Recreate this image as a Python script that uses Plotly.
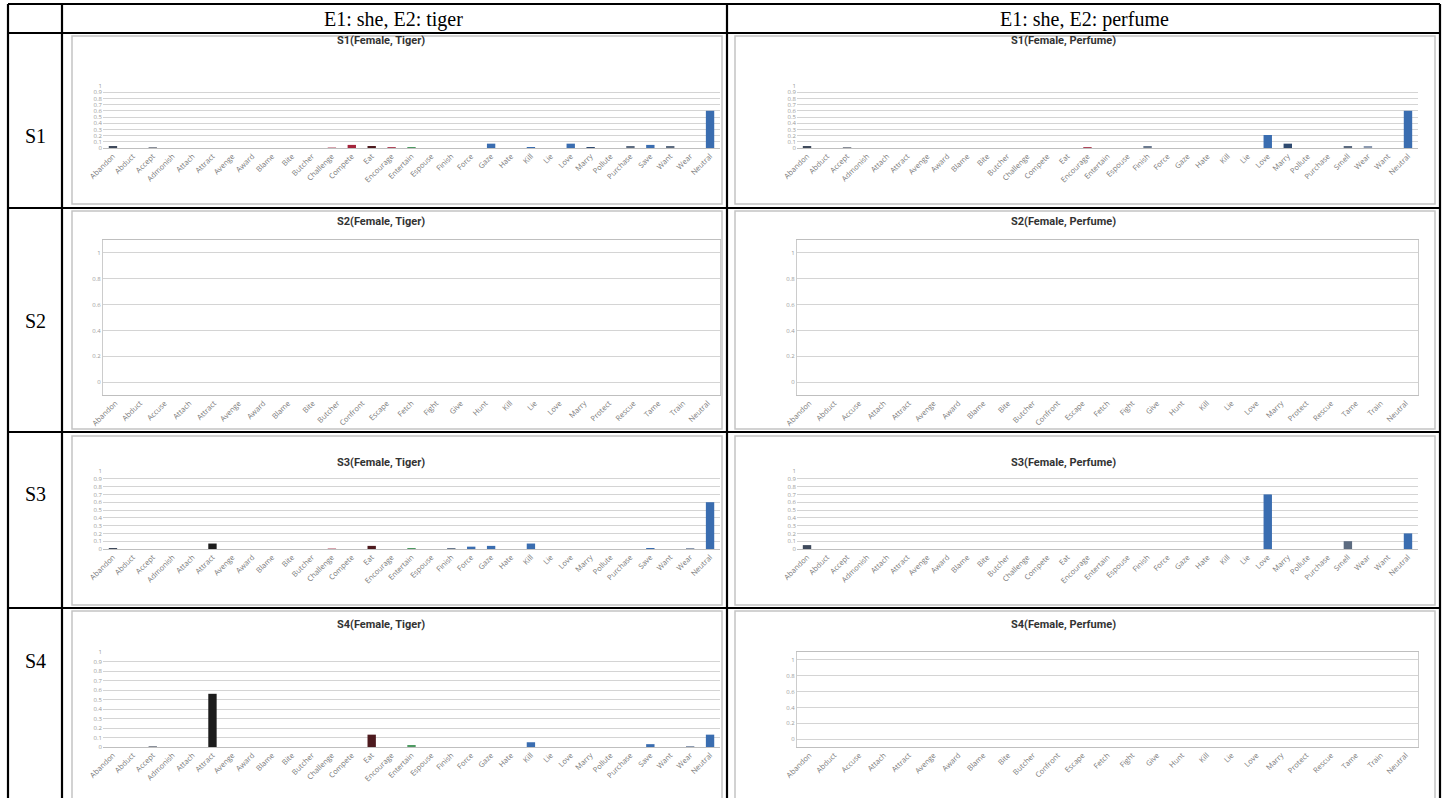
import plotly.graph_objects as go

# ---------------- data ----------------
tiger_categories = ["Abandon", "Abduct", "Accept", "Admonish", "Attach", "Attract", "Avenge", "Award",
                    "Blame", "Bite", "Butcher", "Challenge", "Compete", "Eat", "Encourage", "Entertain",
                    "Espouse", "Finish", "Force", "Gaze", "Hate", "Kill", "Lie", "Love", "Marry",
                    "Pollute", "Purchase", "Save", "Want", "Wear", "Neutral"]
perfume_categories = ["Abandon", "Abduct", "Accept", "Admonish", "Attach", "Attract", "Avenge", "Award",
                      "Blame", "Bite", "Butcher", "Challenge", "Compete", "Eat", "Encourage", "Entertain",
                      "Espouse", "Finish", "Force", "Gaze", "Hate", "Kill", "Lie", "Love", "Marry",
                      "Pollute", "Purchase", "Smell", "Wear", "Want", "Neutral"]
empty_categories = ["Abandon", "Abduct", "Accuse", "Attach", "Attract", "Avenge", "Award", "Blame",
                    "Bite", "Butcher", "Confront", "Escape", "Fetch", "Fight", "Give", "Hunt", "Kill",
                    "Lie", "Love", "Marry", "Protect", "Rescue", "Tame", "Train", "Neutral"]

s1_tiger = [0.02, 0, 0.01, 0, 0, 0, 0, 0, 0, 0, 0, 0.01, 0.05, 0.02, 0.01, 0.01,
            0, 0, 0, 0.07, 0, 0.01, 0, 0.07, 0.01, 0, 0.02, 0.05, 0.02, 0, 0.6]
s3_tiger = [0.01, 0, 0, 0, 0, 0.07, 0, 0, 0, 0, 0, 0.01, 0, 0.04, 0, 0.01,
            0, 0.01, 0.03, 0.04, 0, 0.07, 0, 0, 0, 0, 0, 0.01, 0, 0.01, 0.6]
s4_tiger = [0, 0, 0.01, 0, 0, 0.56, 0, 0, 0, 0, 0, 0, 0, 0.13, 0, 0.02,
            0, 0, 0, 0, 0, 0.05, 0, 0, 0, 0, 0, 0.03, 0, 0.01, 0.13]
s1_perfume = [0.02, 0, 0.01, 0, 0, 0, 0, 0, 0, 0, 0, 0, 0, 0, 0.01, 0,
              0, 0.02, 0, 0, 0, 0, 0, 0.21, 0.07, 0, 0, 0.02, 0.02, 0, 0.6]
s3_perfume = [0.05, 0, 0, 0, 0, 0, 0, 0, 0, 0, 0, 0, 0, 0, 0, 0,
              0, 0, 0, 0, 0, 0, 0, 0.7, 0, 0, 0, 0.1, 0, 0, 0.2]
empty_values = [0, 0, 0, 0, 0, 0, 0, 0, 0, 0, 0, 0, 0, 0, 0, 0, 0, 0, 0, 0, 0, 0, 0, 0, 0]

col_headers = ["E1: she, E2: tiger", "E1: she, E2: perfume"]
row_labels = ["S1", "S2", "S3", "S4"]

# ---------------- style ----------------
W, H = 1446, 798
BLUE = "#3a6db0"
special_colors = {"Abandon": "#3f4a5c", "Accept": "#8a8f99", "Attract": "#1c1c1c",
                  "Challenge": "#d6a3ad", "Compete": "#a3243b", "Eat": "#4d1a1e",
                  "Encourage": "#b0485c", "Entertain": "#4e9a62", "Finish": "#6b7a8f",
                  "Marry": "#2f4a70", "Purchase": "#5c6b80", "Want": "#5c6b80",
                  "Wear": "#8c9ab0", "Smell": "#5c6b80"}


def colors_for(cats):
    return [special_colors.get(c, BLUE) for c in cats]


def fx(x):
    return x / W


def fy(y):
    return 1 - y / H


fig = go.Figure()

cols = {0: dict(frame=(72, 722), plot=(103, 720), title=381),
        1: dict(frame=(735, 1435), plot=(797, 1418), title=1063)}
rows = {0: dict(frame=(36, 204), title=41, plot=(86, 148)),
        1: dict(frame=(211, 429), title=221, plot=(240, 395)),
        2: dict(frame=(436, 605), title=462, plot=(471, 549)),
        3: dict(frame=(611, 800), title=624, plot=(652, 747))}

charts = [
    (0, 0, "S1(Female, Tiger)", tiger_categories, s1_tiger, False),
    (0, 1, "S1(Female, Perfume)", perfume_categories, s1_perfume, False),
    (1, 0, "S2(Female, Tiger)", empty_categories, empty_values, True),
    (1, 1, "S2(Female, Perfume)", empty_categories, empty_values, True),
    (2, 0, "S3(Female, Tiger)", tiger_categories, s3_tiger, False),
    (2, 1, "S3(Female, Perfume)", perfume_categories, s3_perfume, False),
    (3, 0, "S4(Female, Tiger)", tiger_categories, s4_tiger, False),
    (3, 1, "S4(Female, Perfume)", empty_categories, empty_values, True),
]

shapes = []
annotations = []
layout_axes = {}

for k, (r, c, title, cats, vals, empty) in enumerate(charts, start=1):
    col = cols[c]
    row = rows[r]
    xa = "x" if k == 1 else f"x{k}"
    ya = "y" if k == 1 else f"y{k}"
    fig.add_trace(go.Bar(x=cats, y=vals, marker=dict(color=colors_for(cats), line=dict(width=0)),
                         width=0.42, xaxis=xa, yaxis=ya, showlegend=False,
                         hovertemplate="%{x}: %{y}<extra></extra>"))
    xkey = "xaxis" if k == 1 else f"xaxis{k}"
    ykey = "yaxis" if k == 1 else f"yaxis{k}"
    layout_axes[xkey] = dict(domain=[fx(col["plot"][0]), fx(col["plot"][1])], anchor=ya,
                             type="category", categoryorder="array", categoryarray=cats,
                             tickangle=-45, tickfont=dict(size=7.5, color="#7a7a7a", family="Open Sans"),
                             showgrid=False, showline=True, linecolor="#bfbfbf", linewidth=1,
                             mirror=empty, ticks="", fixedrange=True, automargin=False)
    if empty:
        layout_axes[ykey] = dict(domain=[fy(row["plot"][1]), fy(row["plot"][0])], anchor=xa,
                                 range=[-0.1, 1.1], dtick=0.2, tick0=0,
                                 tickfont=dict(size=6, color="#9a9a9a", family="Open Sans"),
                                 gridcolor="#d4d4d4", gridwidth=1, zeroline=False,
                                 showline=True, linecolor="#cccccc", mirror=True, ticks="",
                                 fixedrange=True, automargin=False)
    else:
        layout_axes[ykey] = dict(domain=[fy(row["plot"][1]), fy(row["plot"][0])], anchor=xa,
                                 range=[0, 1], dtick=0.1, tick0=0,
                                 tickfont=dict(size=6, color="#9a9a9a", family="Open Sans"),
                                 gridcolor="#d4d4d4", gridwidth=1, zeroline=False,
                                 showline=False, ticks="", fixedrange=True, automargin=False)
    # chart frame
    shapes.append(dict(type="rect", xref="paper", yref="paper",
                       x0=fx(col["frame"][0]), x1=fx(col["frame"][1]),
                       y0=fy(row["frame"][1]), y1=fy(row["frame"][0]),
                       line=dict(color="#c4c4c4", width=1.5), fillcolor="rgba(0,0,0,0)", layer="below"))
    annotations.append(dict(text=f"<b>{title}</b>", xref="paper", yref="paper",
                            x=fx(col["title"]), y=fy(row["title"]),
                            xanchor="center", yanchor="middle", showarrow=False,
                            font=dict(size=11, color="#333333", family="Roboto")))

# table grid
TL = dict(color="black", width=2.2)
for xv in [8, 62, 727, 1440]:
    shapes.append(dict(type="line", xref="paper", yref="paper", x0=fx(xv), x1=fx(xv),
                       y0=fy(4), y1=fy(800), line=TL))
for yv in [4, 33, 208, 432, 608]:
    shapes.append(dict(type="line", xref="paper", yref="paper", x0=fx(8), x1=fx(1440),
                       y0=fy(yv), y1=fy(yv), line=TL))

for text, xc in zip(col_headers, [394, 1084]):
    annotations.append(dict(text=text, xref="paper", yref="paper", x=fx(xc), y=fy(19),
                            xanchor="center", yanchor="middle", showarrow=False,
                            font=dict(size=20, color="black", family="Liberation Serif")))
row_centers = [136, 321, 494, 661]
for lab, yc in zip(row_labels, row_centers):
    annotations.append(dict(text=lab, xref="paper", yref="paper", x=fx(35), y=fy(yc),
                            xanchor="center", yanchor="middle", showarrow=False,
                            font=dict(size=20, color="black", family="Liberation Serif")))

fig.update_layout(width=W, height=H, margin=dict(l=0, r=0, t=0, b=0, autoexpand=False),
                  template="none",
                  paper_bgcolor="white", plot_bgcolor="white",
                  shapes=shapes, annotations=annotations, bargap=0.5, **layout_axes)

fig.write_html("out.html", config={"displayModeBar": False},
               post_script="document.body.style.margin='0px';document.body.style.overflow='hidden';")
